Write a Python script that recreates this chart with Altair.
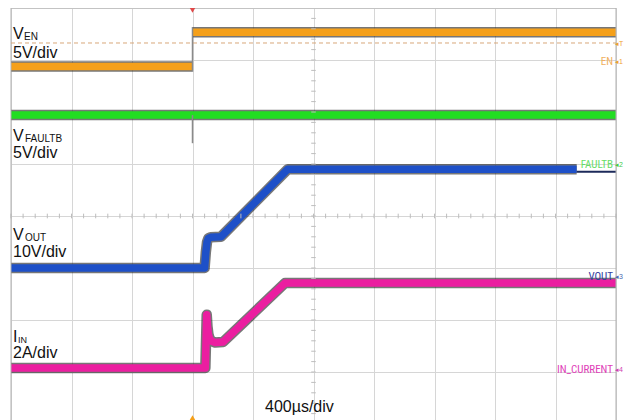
import altair as alt
import pandas as pd
import numpy as np

# ---------------- data ----------------
# time axis: 400 us/div, 10 divisions, trigger 2 div left of centre
T_MIN, T_MAX = -2000, 2000
US_PER_DIV = 400
Y_TOP, Y_BOT = 4.0, -3.923          # vertical divisions visible

channels = ["EN", "FAULTB", "VOUT", "IN_CURRENT"]
ch_colors = ["#f5a01a", "#22dd22", "#1e50c8", "#eb1ea0"]
ch_offset_div = [2.875, 1.0, -1.0, -2.923]   # ground reference position (div)
ch_units_per_div = [5, 5, 10, 2]             # V/div, V/div, V/div, A/div

# EN (V) - two segments (low before trigger, high after)
en_low_t = [-2000, -800]
en_low_v = [0.0, 0.0]
en_high_t = [-800, 2000]
en_high_v = [3.3, 3.3]
en_trigger_level_v = 2.26

# FAULTB (V)
faultb_t = [-2000, 2000]
faultb_v = [4.7, 4.7]
faultb_glitch_t = -800
faultb_glitch_low_v = 2.0

# VOUT (V)
vout_t = [-2000, -720, -712, -704, -695, -680, -612, -170, 1740]
vout_v = [0.0, 0.0, 3.0, 5.0, 5.7, 5.9, 6.0, 19.0, 19.0]
vout_tail_t = [1740, 2000]
vout_tail_v = [18.5, 18.5]

# IN current (A)
iin_t = [-2000, -715, -706, -701, -695, -686, -672, -650, -598, -188, 2000]
iin_a = [0.0, 0.0, 2.05, 1.6, 1.3, 1.12, 1.03, 0.98, 1.0, 3.27, 3.27]

# ---------------- build tables ----------------
def to_div(ch, vals):
    i = channels.index(ch)
    return [ch_offset_div[i] + v / ch_units_per_div[i] for v in vals]

rows = []
def add(ch, seg, ts, vs):
    for k, (t, d) in enumerate(zip(ts, to_div(ch, vs))):
        rows.append({"ch": ch, "seg": seg, "k": k, "t": t, "div": d})

add("EN", "en_low", en_low_t, en_low_v)
add("EN", "en_high", en_high_t, en_high_v)
add("FAULTB", "faultb", faultb_t, faultb_v)
add("VOUT", "vout", vout_t, vout_v)
add("IN_CURRENT", "iin", iin_t, iin_a)
traces = pd.DataFrame(rows)

tail = pd.DataFrame({"t": vout_tail_t, "div": to_div("VOUT", vout_tail_v)})

xscale = alt.Scale(domain=[T_MIN, T_MAX], nice=False, zero=False)
yscale = alt.Scale(domain=[Y_BOT, Y_TOP], nice=False, zero=False)
GRID = "#d6d6d6"

x_enc = alt.X("t:Q", scale=xscale,
              axis=alt.Axis(values=list(range(T_MIN, T_MAX + 1, US_PER_DIV)), grid=True,
                            labels=False, ticks=False, domain=False, title=None,
                            gridColor=GRID, gridWidth=1))
y_enc = alt.Y("div:Q", scale=yscale,
              axis=alt.Axis(values=list(range(-3, 5)), grid=True, labels=False,
                            ticks=False, domain=False, title=None,
                            gridColor=GRID, gridWidth=1))

# centre-line minor ticks (every 1/5 division)
htk = pd.DataFrame({"t": list(range(T_MIN, T_MAX + 1, US_PER_DIV // 5))})
htk["y1"] = -0.045
htk["y2"] = 0.045
vtk = pd.DataFrame({"div": [round(v, 2) for v in np.arange(-3.8, 4.0, 0.2)]})
vtk["x1"] = -15
vtk["x2"] = 15

h_ticks = alt.Chart(htk).mark_rule(color="#bdbdbd", strokeWidth=1).encode(
    x=alt.X("t:Q", scale=xscale), y=alt.Y("y1:Q", scale=yscale), y2="y2:Q")
v_ticks = alt.Chart(vtk).mark_rule(color="#bdbdbd", strokeWidth=1).encode(
    y=alt.Y("div:Q", scale=yscale), x=alt.X("x1:Q", scale=xscale), x2="x2:Q")

# borders (top, left, right)
borders = pd.DataFrame({
    "x1": [T_MIN, T_MIN, T_MAX], "x2": [T_MAX, T_MIN, T_MAX],
    "y1": [Y_TOP, Y_BOT, Y_BOT], "y2": [Y_TOP, Y_TOP, Y_TOP]})
border = alt.Chart(borders).mark_rule(color="#b0b0b0", strokeWidth=1).encode(
    x=alt.X("x1:Q", scale=xscale), x2="x2:Q", y=alt.Y("y1:Q", scale=yscale), y2="y2:Q")

# EN trigger level dashed line
trig = pd.DataFrame({"x1": [T_MIN], "x2": [T_MAX], "y": to_div("EN", [en_trigger_level_v])})
trig_line = alt.Chart(trig).mark_rule(color="#d9a77a", strokeWidth=1, strokeDash=[4, 3]).encode(
    x=alt.X("x1:Q", scale=xscale), x2="x2:Q", y=alt.Y("y:Q", scale=yscale))

# thin gray edges: EN step, FAULTB glitch
edges = pd.DataFrame({
    "t": [en_low_t[-1], faultb_glitch_t],
    "y1": [to_div("EN", [en_low_v[-1]])[0] - 0.1, to_div("FAULTB", [faultb_glitch_low_v])[0]],
    "y2": [to_div("EN", [en_high_v[0]])[0] + 0.1, to_div("FAULTB", [faultb_v[0]])[0]],
})
edge_rules = alt.Chart(edges).mark_rule(color="#8a8a8a", strokeWidth=1.5).encode(
    x=alt.X("t:Q", scale=xscale), y=alt.Y("y1:Q", scale=yscale), y2="y2:Q")

base = alt.Chart(traces).encode(x=x_enc, y=y_enc, detail="seg:N", order="k:Q")
outline = base.mark_line(strokeWidth=10.5, color="#1c1c1c", opacity=0.6, strokeJoin="round")
colored = base.mark_line(strokeWidth=7.5, strokeJoin="round").encode(
    color=alt.Color("ch:N", scale=alt.Scale(domain=channels, range=ch_colors), legend=None))

tail_line = alt.Chart(tail).mark_line(color="#1c2a5a", strokeWidth=2).encode(
    x=alt.X("t:Q", scale=xscale), y=alt.Y("div:Q", scale=yscale))

# trigger position markers
mk = pd.DataFrame({"t": [-800, -800], "div": [3.96, -3.88]})
mk_top = alt.Chart(mk.iloc[[0]]).mark_point(shape="triangle-down", filled=True, size=35,
                                              color="#e04848", opacity=1).encode(
    x=alt.X("t:Q", scale=xscale), y=alt.Y("div:Q", scale=yscale))
mk_bot = alt.Chart(mk.iloc[[1]]).mark_point(shape="triangle-up", filled=True, size=35,
                                              color="#f5a01a", opacity=1).encode(
    x=alt.X("t:Q", scale=xscale), y=alt.Y("div:Q", scale=yscale))

# ---------------- text ----------------
SANS = "Liberation Sans, Arial, sans-serif"
NARROW = "Liberation Sans Narrow, Arial Narrow, Roboto Condensed, sans-serif"

def label(text, px, py, size, color="#111111", align="left", baseline="alphabetic", font=SANS):
    return alt.Chart(pd.DataFrame({"s": [text]})).mark_text(
        align=align, baseline=baseline, fontSize=size, color=color, font=font
    ).encode(x=alt.value(px), y=alt.value(py), text="s:N")

texts = [
    label("V", 2, 31, 16), label("EN", 13, 32, 10), label("5V/div", 2, 50, 16),
    label("V", 2, 133, 16), label("FAULTB", 14, 134, 10), label("5V/div", 2, 150, 16),
    label("V", 2, 232, 16), label("OUT", 14, 233, 10), label("10V/div", 2, 249, 16),
    label("I", 2, 334, 16), label("IN", 7, 335, 9), label("2A/div", 2, 350, 16),
    label("400µs/div", 254, 404, 16),
    label("EN", 602, 54, 11, "#f0b060", "right", "middle", NARROW),
    label("FAULTB", 602, 157, 11, "#66dd66", "right", "middle", NARROW),
    label("VOUT", 602, 269, 11, "#33409e", "right", "middle", NARROW),
    label("IN_CURRENT", 602, 362, 11, "#e040b8", "right", "middle", NARROW),
    label("◂1", 604, 56, 7, "#f0a030"),
    label("◂2", 604, 159, 7, "#44cc44"),
    label("◂3", 604, 271, 7, "#4a6ab0"),
    label("◂4", 604, 364, 7, "#d040b0"),
    label("◂T", 604, 38, 7, "#f0a030"),
]

chart = alt.layer(
    outline, colored, tail_line, h_ticks, v_ticks, border, trig_line, edge_rules,
    mk_top, mk_bot, *texts
).properties(
    width=605, height=412,
    padding={"left": 3, "top": 0, "right": 8, "bottom": 0},
    autosize=alt.AutoSizeParams(type="none"),
).configure_view(stroke=None, fill="#fafafa").configure(background="white")

chart.save("out.html", embed_options={"renderer": "svg", "actions": False})
